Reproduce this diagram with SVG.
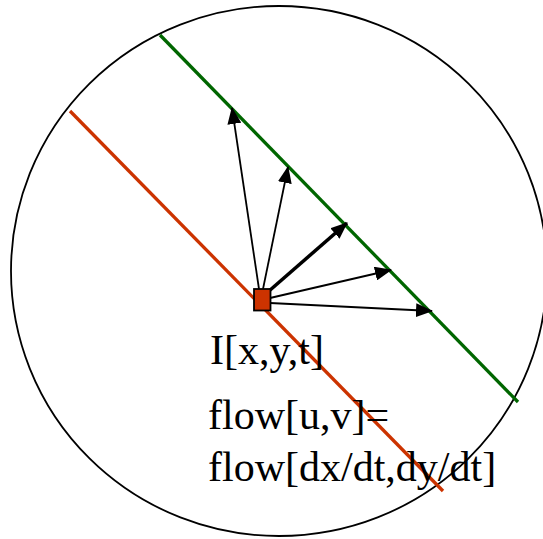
<svg xmlns="http://www.w3.org/2000/svg" width="543" height="539" viewBox="0 0 543 539">
<style>
.thin{stroke:#000;stroke-width:1.8;fill:none}
.thick{stroke:#000;stroke-width:3.5;fill:none}
.lbl{font-family:"Liberation Serif","Times New Roman",serif;font-size:42px;fill:#000}
</style>
<defs>
<marker id="ah" viewBox="0 0 17 14" refX="16" refY="7" markerWidth="17" markerHeight="14" markerUnits="userSpaceOnUse" orient="auto">
<path d="M0,0 L17,7 L0,14 z" fill="#000"/>
</marker>
</defs>
<rect width="543" height="539" fill="#fff"/>
<g id="circle"><ellipse cx="279" cy="271" rx="268" ry="265" fill="none" stroke="#000" stroke-width="1.8"/></g>
<g id="lines">
<line x1="160" y1="35" x2="518" y2="402" stroke="#006600" stroke-width="3.3"/>
<line x1="70" y1="111" x2="443" y2="491" stroke="#CC3300" stroke-width="3.3"/>
</g>
<g id="connectors">
<line class="thin" x1="259" y1="289" x2="232" y2="108" marker-end="url(#ah)"/>
<line class="thin" x1="263" y1="289" x2="288" y2="167" marker-end="url(#ah)"/>
<line class="thick" x1="269" y1="291" x2="347" y2="223" marker-end="url(#ah)"/>
<line class="thin" x1="270" y1="298" x2="391" y2="270" marker-end="url(#ah)"/>
<line class="thin" x1="270" y1="303" x2="432" y2="311" marker-end="url(#ah)"/>
</g>
<g id="pixel"><rect x="254" y="289" width="16.5" height="21.5" fill="#CC3300" stroke="#000" stroke-width="1.8"/></g>
<g id="labels">
<text class="lbl" x="210" y="364">I[x,y,t]</text>
<text class="lbl" x="208" y="429">flow[u,v]=</text>
<text class="lbl" x="208" y="481">flow[dx/dt,dy/dt]</text>
</g>
</svg>
